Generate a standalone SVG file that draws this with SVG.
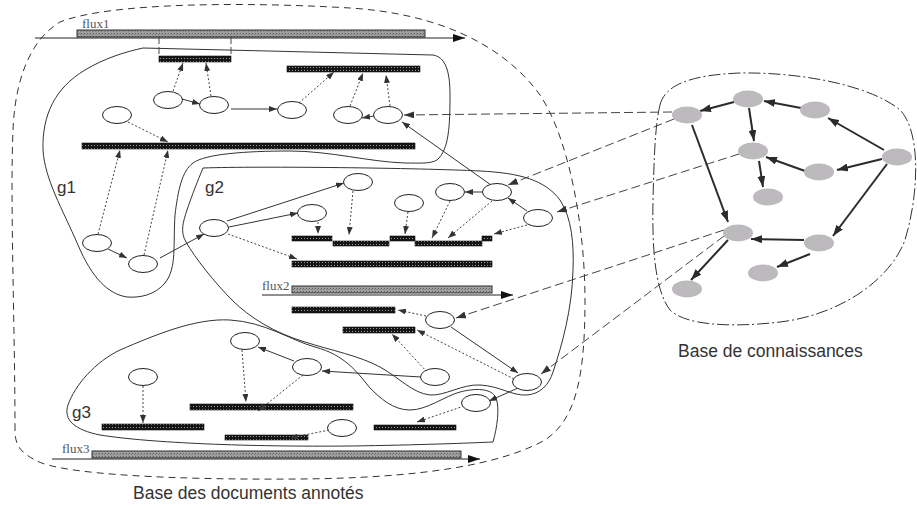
<svg xmlns="http://www.w3.org/2000/svg" width="917" height="506" viewBox="0 0 917 506">
  <defs>
    <!-- dense dark texture for annotated segments -->
    <pattern id="dk" width="3" height="3" patternUnits="userSpaceOnUse">
      <rect width="3" height="3" fill="#151515"/>
      <rect x="1" y="1" width="1" height="1" fill="#9a9a9a"/>
    </pattern>
    <!-- lighter hatched texture for the stream bars -->
    <pattern id="fx" width="3" height="3" patternUnits="userSpaceOnUse">
      <rect width="3" height="3" fill="#a0a0a0"/>
      <rect x="0" y="0" width="1" height="1" fill="#5c5c5c"/>
      <rect x="2" y="1" width="1" height="1" fill="#777"/>
    </pattern>
    <marker id="ah" viewBox="0 0 8 6" refX="8" refY="3" markerWidth="8" markerHeight="6" markerUnits="userSpaceOnUse" orient="auto">
      <path d="M0,0 L8,3 L0,6 Z" fill="#333"/>
    </marker>
    <marker id="ak" viewBox="0 0 10 7" refX="10" refY="3.5" markerWidth="10" markerHeight="7" markerUnits="userSpaceOnUse" orient="auto">
      <path d="M0,0 L10,3.5 L0,7 Z" fill="#333"/>
    </marker>
    <marker id="ab" viewBox="0 0 11 8" refX="11" refY="4" markerWidth="11" markerHeight="8" markerUnits="userSpaceOnUse" orient="auto">
      <path d="M0,0 L11,4 L0,8 Z" fill="#2b2b2b"/>
    </marker>
    <marker id="af" viewBox="0 0 12 8" refX="12" refY="4" markerWidth="12" markerHeight="8" markerUnits="userSpaceOnUse" orient="auto">
      <path d="M0,0 L12,4 L0,8 Z" fill="#111"/>
    </marker>
    <style>
      .nd ellipse { fill:#fff; stroke:#222; stroke-width:1; }
      .kb ellipse { fill:#bdbabe; }
      .bar { fill:url(#dk); stroke:#111; stroke-width:0.6; }
      .flx { fill:url(#fx); stroke:#333; stroke-width:1; }
      .fline { stroke:#222; stroke-width:1.2; fill:none; marker-end:url(#af); }
      .s { stroke:#333; stroke-width:1; fill:none; marker-end:url(#ah); }
      .d { stroke:#444; stroke-width:1; stroke-dasharray:2 2; fill:none; marker-end:url(#ah); }
      .k { stroke:#444; stroke-width:1; stroke-dasharray:9 4; fill:none; marker-end:url(#ak); }
      .e { stroke:#2b2b2b; stroke-width:2; fill:none; marker-end:url(#ab); }
      .grp { fill:none; stroke:#333; stroke-width:1; }
      .lbl { font-family:"Liberation Sans", Arial, sans-serif; fill:#333; }
      .fl { font-family:"Liberation Serif", "Times New Roman", serif; font-size:13px; fill:#555; }
    </style>
  </defs>

  <!-- document base boundary -->
  <path id="docBase" d="M15,430 C15,330 10,200 13,130 C15,80 30,40 60,22 C110,2 250,2 350,8 C430,13 500,40 540,95 C570,140 585,230 585,300 C585,380 575,420 545,440 C500,465 420,478 300,479 C180,480 60,475 35,460 C20,452 15,445 15,430 Z" fill="none" stroke="#333" stroke-width="1" stroke-dasharray="7 5"/>

  <!-- knowledge base boundary -->
  <path id="kbBase" d="M660,105 C665,85 690,75 740,73 C800,72 870,85 900,110 C920,130 920,190 905,240 C890,280 840,315 780,322 C730,328 685,325 670,310 C655,290 652,250 653,200 C654,160 655,125 660,105 Z" fill="none" stroke="#333" stroke-width="1" stroke-dasharray="12 3 2 3"/>

  <!-- annotation groups -->
  <g id="groups">
    <path id="g1" class="grp" d="M143,48 L433,55 C445,57 450,70 450,95 C450,125 449,150 437,160 C430,164 420,163 405,163 C370,162 330,151 290,151 C245,151 205,154 193,163 C182,171 178,190 175,215 C173,245 177,268 165,283 C155,295 140,298 127,297 C108,294 92,278 78,245 C62,208 45,180 43,150 C42,115 55,88 85,70 C105,58 125,52 143,48 Z"/>
    <path id="g2" class="grp" d="M203,168 C260,166 420,168 480,171 C520,173 545,180 560,200 C572,218 574,245 573,270 C572,310 562,345 553,372 C549,385 540,394 527,395 C512,396 500,386 480,385 C462,384 445,396 430,395 C412,393 400,378 380,367 C360,356 330,350 305,342 C275,333 250,318 232,300 C215,283 195,258 186,242 C180,232 183,222 187,210 C192,195 198,180 203,168 Z"/>
    <path id="g3" class="grp" d="M493,442 C497,428 500,408 496,398 C492,388 475,388 460,392 C445,396 427,410 410,410 C393,410 380,398 370,388 C357,372 345,355 315,347 C290,340 265,322 230,320 C195,318 155,335 120,350 C95,362 75,385 68,405 C63,420 75,430 100,435 C150,443 250,447 350,446 C420,445 470,443 493,442 Z"/>
    <text class="lbl" x="57" y="193" font-size="17">g1</text>
    <text class="lbl" x="205" y="193" font-size="17">g2</text>
    <text class="lbl" x="72" y="418" font-size="17">g3</text>
  </g>

  <!-- document streams -->
  <g id="flux1">
    <rect class="flx" x="77" y="30" width="348" height="7"/>
    <path class="fline" d="M35,38 H465"/>
    <text class="fl" x="82" y="28">flux1</text>
  </g>
  <g id="flux2">
    <rect class="flx" x="292" y="286" width="200" height="7"/>
    <path class="fline" d="M262,295 H513"/>
    <text class="fl" x="262" y="290">flux2</text>
  </g>
  <g id="flux3">
    <rect class="flx" x="92" y="451" width="369" height="7"/>
    <path class="fline" d="M52,459 H480"/>
    <text class="fl" x="62" y="453">flux3</text>
  </g>

  <!-- annotated segments -->
  <g id="segments">
    <g id="s1"><rect class="bar" x="159" y="56" width="72" height="6"/>
      <path d="M159,37 V56 M231,37 V56" stroke="#444" stroke-width="1" stroke-dasharray="7 3" fill="none"/></g>
    <g id="s2"><rect class="bar" x="287" y="66" width="133" height="6"/></g>
    <g id="s3"><rect class="bar" x="82" y="143" width="333" height="6"/></g>
    <g id="b1"><rect class="bar" x="292" y="236" width="40" height="5"/></g>
    <g id="b2"><rect class="bar" x="333" y="241" width="56" height="5"/></g>
    <g id="b3"><rect class="bar" x="390" y="236" width="25" height="5"/></g>
    <g id="b4"><rect class="bar" x="415" y="241" width="67" height="5"/></g>
    <g id="b5"><rect class="bar" x="482" y="236" width="10" height="5"/></g>
    <g id="b6"><rect class="bar" x="292" y="261" width="200" height="6"/></g>
    <g id="b7"><rect class="bar" x="292" y="307" width="103" height="6"/></g>
    <g id="b8"><rect class="bar" x="343" y="327" width="72" height="6"/></g>
    <g id="b9"><rect class="bar" x="190" y="404" width="163" height="6"/></g>
    <g id="b10"><rect class="bar" x="225" y="435" width="83" height="5"/></g>
    <g id="b11"><rect class="bar" x="102" y="424" width="102" height="6"/></g>
    <g id="b12"><rect class="bar" x="374" y="425" width="82" height="5"/></g>
  </g>

  <!-- connectors -->
  <g id="connectors">
    <!-- g1 -->
    <path class="d" d="M173,91 L183,63"/>
    <path class="d" d="M211,96 L206,63"/>
    <path class="s" d="M182,99 L200,104"/>
    <path class="s" d="M231,109 L277,109"/>
    <path class="d" d="M299,103 L334,72"/>
    <path class="d" d="M350,106 L363,73"/>
    <path class="d" d="M390,106 L386,75"/>
    <path class="s" d="M374,116 L362,118"/>
    <path class="d" d="M128,122 L168,142"/>
    <path class="d" d="M98,234 L120,150"/>
    <path class="d" d="M144,255 L168,150"/>
    <path class="s" d="M108,249 L127,258"/>
    <path class="s" d="M160,258 L204,234"/>
    <path class="s" d="M491,185 L402,122"/>
    <!-- g2 -->
    <path class="s" d="M227,221 L344,183"/>
    <path class="s" d="M229,227 L298,213"/>
    <path class="d" d="M228,234 L297,259"/>
    <path class="d" d="M318,222 L318,234"/>
    <path class="d" d="M353,191 L349,235"/>
    <path class="d" d="M408,212 L405,234"/>
    <path class="d" d="M450,201 L432,238"/>
    <path class="d" d="M492,201 L448,238"/>
    <path class="d" d="M527,225 L494,234"/>
    <path class="s" d="M482,192 L465,192"/>
    <path class="s" d="M527,211 L508,198"/>
    <path class="d" d="M426,316 L398,310"/>
    <path class="d" d="M514,379 L417,330"/>
    <path class="s" d="M451,327 L518,373"/>
    <path class="d" d="M427,372 L392,334"/>
    <!-- g3 -->
    <path class="s" d="M421,377 L322,371"/>
    <path class="s" d="M294,361 L258,347"/>
    <path class="d" d="M242,350 L246,402"/>
    <path class="d" d="M303,375 L258,411"/>
    <path class="d" d="M143,386 L143,423"/>
    <path class="d" d="M329,430 L290,438"/>
    <path class="d" d="M464,406 L417,422"/>
    <path class="s" d="M518,388 L489,401"/>
    <!-- knowledge links -->
    <path class="k" d="M672,112 L404,115"/>
    <path class="k" d="M674,119 L508,185"/>
    <path class="k" d="M739,154 L557,212"/>
    <path class="k" d="M724,230 L456,318"/>
    <path class="k" d="M724,236 L541,374"/>
    <!-- knowledge base relations -->
    <path class="e" d="M734,102 L700,111"/>
    <path class="e" d="M749,108 L754,141"/>
    <path class="e" d="M801,108 L764,101"/>
    <path class="e" d="M884,150 L828,118"/>
    <path class="e" d="M805,171 L766,157"/>
    <path class="e" d="M882,159 L837,170"/>
    <path class="e" d="M759,161 L763,187"/>
    <path class="e" d="M692,125 L728,222"/>
    <path class="e" d="M887,164 L833,236"/>
    <path class="e" d="M804,240 L751,239"/>
    <path class="e" d="M810,254 L777,267"/>
    <path class="e" d="M728,240 L691,280"/>
  </g>

  <!-- document annotation nodes -->
  <g id="nA" class="nd"><ellipse cx="168" cy="100" rx="14.5" ry="8.5"/></g>
  <g id="nB" class="nd"><ellipse cx="214" cy="105" rx="14.5" ry="8.5"/></g>
  <g id="nC" class="nd"><ellipse cx="292" cy="110" rx="14.5" ry="8.5"/></g>
  <g id="nD" class="nd"><ellipse cx="348" cy="115" rx="14.5" ry="8.5"/></g>
  <g id="nE" class="nd"><ellipse cx="388" cy="115" rx="14.5" ry="8.5"/></g>
  <g id="nF" class="nd"><ellipse cx="117" cy="115" rx="14.5" ry="8.5"/></g>
  <g id="nO" class="nd"><ellipse cx="97" cy="243" rx="14.5" ry="8.5"/></g>
  <g id="nP" class="nd"><ellipse cx="143" cy="264" rx="14.5" ry="8.5"/></g>
  <g id="nG" class="nd"><ellipse cx="214" cy="228" rx="14.5" ry="8.5"/></g>
  <g id="nH" class="nd"><ellipse cx="312" cy="213" rx="14.5" ry="8.5"/></g>
  <g id="nI" class="nd"><ellipse cx="358" cy="182" rx="14.5" ry="8.5"/></g>
  <g id="nJ" class="nd"><ellipse cx="409" cy="203" rx="14.5" ry="8.5"/></g>
  <g id="nK" class="nd"><ellipse cx="450" cy="192" rx="14.5" ry="8.5"/></g>
  <g id="nL" class="nd"><ellipse cx="497" cy="192" rx="14.5" ry="8.5"/></g>
  <g id="nM" class="nd"><ellipse cx="538" cy="218" rx="14.5" ry="8.5"/></g>
  <g id="nN" class="nd"><ellipse cx="440" cy="320" rx="14.5" ry="8.5"/></g>
  <g id="nQ" class="nd"><ellipse cx="245" cy="341" rx="14.5" ry="8.5"/></g>
  <g id="nR" class="nd"><ellipse cx="307" cy="367" rx="14.5" ry="8.5"/></g>
  <g id="nS" class="nd"><ellipse cx="342" cy="428" rx="14.5" ry="8.5"/></g>
  <g id="nT" class="nd"><ellipse cx="143" cy="377" rx="14.5" ry="8.5"/></g>
  <g id="nU" class="nd"><ellipse cx="435" cy="377" rx="14.5" ry="8.5"/></g>
  <g id="nV" class="nd"><ellipse cx="527" cy="382" rx="14.5" ry="8.5"/></g>
  <g id="nW" class="nd"><ellipse cx="476" cy="403" rx="14.5" ry="8.5"/></g>

  <!-- knowledge base concepts -->
  <g id="k1" class="kb"><ellipse cx="687" cy="115" rx="15" ry="8.5"/></g>
  <g id="k2" class="kb"><ellipse cx="748" cy="99" rx="15" ry="8.5"/></g>
  <g id="k3" class="kb"><ellipse cx="815" cy="110" rx="15" ry="8.5"/></g>
  <g id="k4" class="kb"><ellipse cx="753" cy="151" rx="15" ry="8.5"/></g>
  <g id="k5" class="kb"><ellipse cx="819" cy="172" rx="15" ry="8.5"/></g>
  <g id="k6" class="kb"><ellipse cx="897" cy="157" rx="15" ry="8.5"/></g>
  <g id="k7" class="kb"><ellipse cx="768" cy="197" rx="15" ry="8.5"/></g>
  <g id="k8" class="kb"><ellipse cx="738" cy="233" rx="15" ry="8.5"/></g>
  <g id="k9" class="kb"><ellipse cx="819" cy="243" rx="15" ry="8.5"/></g>
  <g id="k10" class="kb"><ellipse cx="763" cy="273" rx="15" ry="8.5"/></g>
  <g id="k11" class="kb"><ellipse cx="687" cy="289" rx="15" ry="8.5"/></g>

  <!-- captions -->
  <text class="lbl" x="678" y="357" font-size="17.5" fill="#222">Base de connaissances</text>
  <text class="lbl" x="133" y="499" font-size="17.5" fill="#222">Base des documents annotés</text>
</svg>
